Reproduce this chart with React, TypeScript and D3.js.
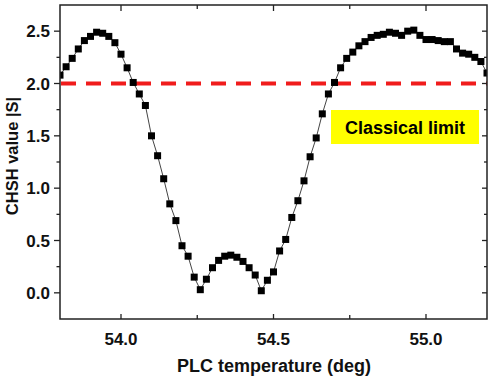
import React, { useEffect, useRef } from "react";
import * as d3 from "d3";

const temperatures = [
  53.8, 53.82, 53.84, 53.86, 53.88, 53.9, 53.92, 53.94, 53.96, 53.98,
  54.0, 54.02, 54.04, 54.06, 54.08, 54.1, 54.12, 54.14, 54.16, 54.18,
  54.2, 54.22, 54.24, 54.26, 54.28, 54.3, 54.32, 54.34, 54.36, 54.38,
  54.4, 54.42, 54.44, 54.46, 54.48, 54.5, 54.52, 54.54, 54.56, 54.58,
  54.6, 54.62, 54.64, 54.66, 54.68, 54.7, 54.72, 54.74, 54.76, 54.78,
  54.8, 54.82, 54.84, 54.86, 54.88, 54.9, 54.92, 54.94, 54.96, 54.98,
  55.0, 55.02, 55.04, 55.06, 55.08, 55.1, 55.12, 55.14, 55.16, 55.18,
  55.2,
];

const chshValues = [
  2.08, 2.16, 2.24, 2.33, 2.41, 2.45, 2.49, 2.48, 2.45, 2.39,
  2.28, 2.15, 2.01, 1.9, 1.79, 1.5, 1.31, 1.09, 0.85, 0.69,
  0.45, 0.35, 0.15, 0.03, 0.13, 0.24, 0.31, 0.35, 0.36, 0.34,
  0.3, 0.24, 0.17, 0.02, 0.12, 0.2, 0.4, 0.51, 0.72, 0.88,
  1.07, 1.3, 1.48, 1.71, 1.9, 2.01, 2.15, 2.24, 2.3, 2.36,
  2.4, 2.44, 2.46, 2.47, 2.49, 2.48, 2.46, 2.5, 2.51, 2.46,
  2.42, 2.42, 2.41, 2.4, 2.4, 2.33, 2.29, 2.28, 2.25, 2.21,
  2.1,
];

const xMajorTicks = [54.0, 54.5, 55.0];
const xMinorTicks = [53.75, 54.25, 54.75, 55.25];
const yMajorTicks = [0.0, 0.5, 1.0, 1.5, 2.0, 2.5];
const yMinorTicks = [-0.25, 0.25, 0.75, 1.25, 1.75, 2.25, 2.75];
const classicalLimit = 2.0;
const xLabel = "PLC temperature (deg)";
const yLabel = "CHSH value |S|";
const limitLabel = "Classical limit";

const W = 500;
const H = 383;
const M = { left: 60, right: 13, top: 5, bottom: 64 };
const FONT = "Arial, 'Liberation Sans', Helvetica, sans-serif";

export default function App() {
  const ref = useRef<SVGSVGElement | null>(null);

  useEffect(() => {
    const svg = d3.select(ref.current);
    svg.selectAll("*").remove();

    const x0 = M.left, x1 = W - M.right, y0 = M.top, y1 = H - M.bottom;
    const x = d3.scaleLinear().domain([53.8, 55.2]).range([x0, x1]);
    const y = d3.scaleLinear().domain([-0.25, 2.75]).range([y1, y0]);

    svg.append("defs").append("clipPath").attr("id", "plotclip")
      .append("rect").attr("x", x0).attr("y", y0).attr("width", x1 - x0).attr("height", y1 - y0);

    const data = temperatures.map((t, i) => ({ t, s: chshValues[i] }));

    const plot = svg.append("g").attr("clip-path", "url(#plotclip)");

    const line = d3.line<{ t: number; s: number }>().x((d) => x(d.t)).y((d) => y(d.s));
    plot.append("path").datum(data).attr("d", line).attr("fill", "none")
      .attr("stroke", "#444").attr("stroke-width", 1);

    plot.append("line")
      .attr("x1", x0 + 1).attr("x2", x1).attr("y1", y(classicalLimit)).attr("y2", y(classicalLimit))
      .attr("stroke", "#f01c1c").attr("stroke-width", 4).attr("stroke-dasharray", "15,10");

    const ms = 7;
    plot.selectAll("rect.pt").data(data).enter().append("rect")
      .attr("class", "pt")
      .attr("x", (d) => x(d.t) - ms / 2).attr("y", (d) => y(d.s) - ms / 2)
      .attr("width", ms).attr("height", ms).attr("fill", "#000");

    const bx0 = 331, by0 = 110, bw = 148, bh = 34;
    svg.append("rect").attr("x", bx0).attr("y", by0).attr("width", bw).attr("height", bh).attr("fill", "#ffff00");
    svg.append("text").attr("x", bx0 + bw / 2).attr("y", by0 + bh / 2 + 6.5)
      .attr("text-anchor", "middle").attr("font-family", FONT).attr("font-weight", "bold")
      .attr("font-size", 18).attr("fill", "#000").text(limitLabel);

    svg.append("rect").attr("x", x0).attr("y", y0).attr("width", x1 - x0).attr("height", y1 - y0)
      .attr("fill", "none").attr("stroke", "#222").attr("stroke-width", 1.5);

    const tk = svg.append("g").attr("stroke", "#222").attr("stroke-width", 1.3);
    xMajorTicks.forEach((v) => {
      tk.append("line").attr("x1", x(v)).attr("x2", x(v)).attr("y1", y1).attr("y2", y1 - 5);
      tk.append("line").attr("x1", x(v)).attr("x2", x(v)).attr("y1", y0).attr("y2", y0 + 6);
    });
    xMinorTicks.filter((v) => v > 53.8 && v < 55.2).forEach((v) => {
      tk.append("line").attr("x1", x(v)).attr("x2", x(v)).attr("y1", y1).attr("y2", y1 - 4);
      tk.append("line").attr("x1", x(v)).attr("x2", x(v)).attr("y1", y0).attr("y2", y0 + 4);
    });
    yMajorTicks.forEach((v) => {
      tk.append("line").attr("x1", x0).attr("x2", x0 - 6).attr("y1", y(v)).attr("y2", y(v));
      tk.append("line").attr("x1", x1).attr("x2", x1 - 5).attr("y1", y(v)).attr("y2", y(v));
    });
    yMinorTicks.filter((v) => v > -0.25 && v < 2.75).forEach((v) => {
      tk.append("line").attr("x1", x0).attr("x2", x0 - 3.5).attr("y1", y(v)).attr("y2", y(v));
      tk.append("line").attr("x1", x1).attr("x2", x1 - 3).attr("y1", y(v)).attr("y2", y(v));
    });

    const fmt = d3.format(".1f");
    svg.append("g").selectAll("text").data(xMajorTicks).enter().append("text")
      .attr("x", (d) => x(d)).attr("y", 345).attr("text-anchor", "middle")
      .attr("font-family", FONT).attr("font-weight", "bold").attr("font-size", 17).attr("fill", "#111")
      .text((d) => fmt(d));
    svg.append("g").selectAll("text").data(yMajorTicks).enter().append("text")
      .attr("x", 50).attr("y", (d) => y(d) + 6).attr("text-anchor", "end")
      .attr("font-family", FONT).attr("font-weight", "bold").attr("font-size", 17).attr("fill", "#111")
      .text((d) => fmt(d));

    svg.append("text").attr("x", 274).attr("y", 372).attr("text-anchor", "middle")
      .attr("font-family", FONT).attr("font-weight", "bold").attr("font-size", 18).attr("fill", "#111")
      .text(xLabel);
    svg.append("text").attr("transform", `translate(18,${156}) rotate(-90)`)
      .attr("text-anchor", "middle")
      .attr("font-family", FONT).attr("font-weight", "bold").attr("font-size", 16.5).attr("fill", "#111")
      .text(yLabel);
  }, []);

  return (
    <svg ref={ref} width={W} height={H}
      style={{ position: "absolute", left: 0, top: 0, background: "#fff" }} />
  );
}
